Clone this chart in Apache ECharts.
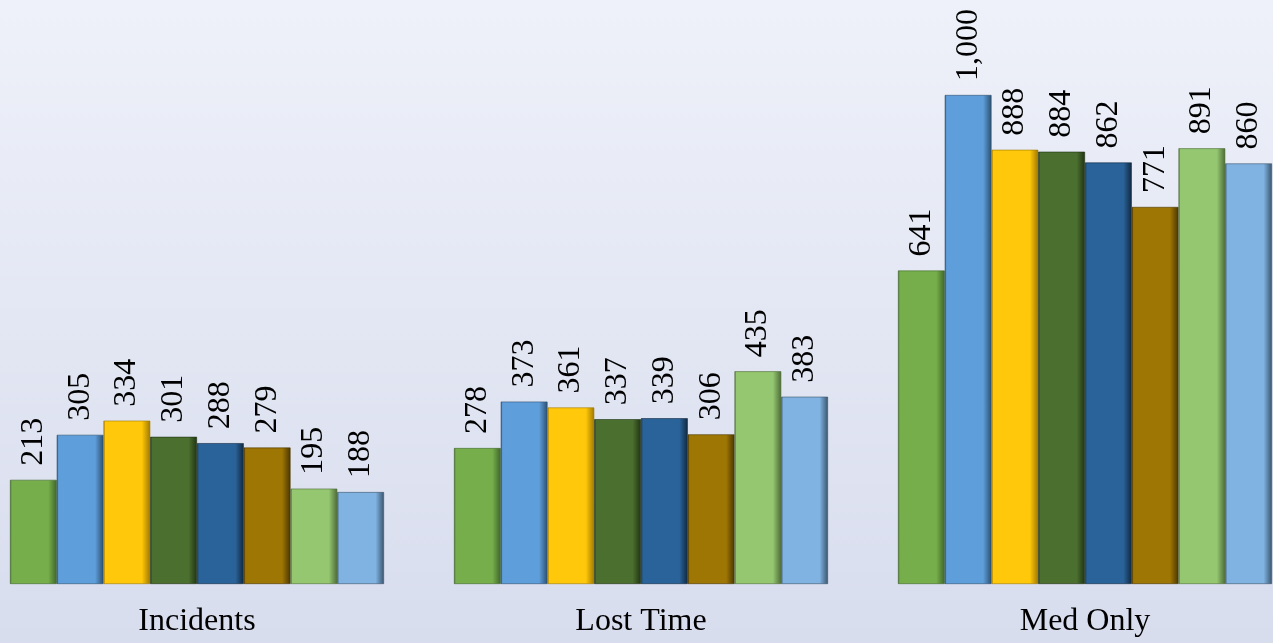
<!DOCTYPE html>
<html>
<head>
<meta charset="utf-8">
<script src="https://cdn.jsdelivr.net/npm/echarts@6/dist/echarts.min.js"></script>
<style>
  html, body { margin: 0; padding: 0; }
  #main { width: 1273px; height: 643px; }
</style>
</head>
<body>
<div id="main"></div>
<script>
var categories = ['Incidents', 'Lost Time', 'Med Only'];
var seriesNames = ['Series 1', 'Series 2', 'Series 3', 'Series 4', 'Series 5', 'Series 6', 'Series 7', 'Series 8'];
var s1 = [213, 278, 641];
var s2 = [305, 373, 1000];
var s3 = [334, 361, 888];
var s4 = [301, 337, 884];
var s5 = [288, 339, 862];
var s6 = [279, 306, 771];
var s7 = [195, 435, 891];
var s8 = [188, 383, 860];
var allValues = [s1, s2, s3, s4, s5, s6, s7, s8];

// base / dark edge colours for each series
var colors = [
  ['#76ae4b', '#3f6628'],
  ['#5e9edb', '#2c4f70'],
  ['#ffc80a', '#a07800'],
  ['#4b6f2f', '#1f3312'],
  ['#2a6399', '#10283f'],
  ['#9e7604', '#4a3600'],
  ['#94c770', '#4d6b38'],
  ['#80b3e2', '#3a546c']
];

var mychart = echarts.init(document.getElementById('main'));

function barColor(c) {
  return new echarts.graphic.LinearGradient(0, 0, 1, 0, [
    {offset: 0, color: c[1]},
    {offset: 0.04, color: c[0]},
    {offset: 0.82, color: c[0]},
    {offset: 1, color: c[1]}
  ]);
}

var series = [];
for (var i = 0; i < allValues.length; i++) {
  series.push({
    name: seriesNames[i],
    type: 'bar',
    barWidth: 46.75,
    barGap: '0%',
    data: allValues[i],
    itemStyle: {
      color: barColor(colors[i]),
      borderColor: colors[i][1],
      borderWidth: 0.6
    },
    label: {
      show: true,
      position: 'top',
      rotate: 90,
      align: 'left',
      verticalAlign: 'middle',
      distance: 14,
      fontFamily: 'Liberation Serif',
      fontSize: 32,
      color: '#000',
      formatter: function (p) {
        return p.value.toLocaleString('en-US');
      }
    }
  });
}

var option = {
  backgroundColor: new echarts.graphic.LinearGradient(0, 0, 0, 1, [
    {offset: 0, color: '#eef1f9'},
    {offset: 1, color: '#d8ddee'}
  ]),
  animation: false,
  grid: {
    left: -25,
    top: 95,
    width: 1332,
    bottom: 59,
    outerBoundsMode: 'none'
  },
  xAxis: {
    type: 'category',
    data: categories,
    axisLine: {show: false},
    axisTick: {show: false},
    axisLabel: {
      margin: 22,
      fontFamily: 'Liberation Serif',
      fontSize: 32,
      color: '#000'
    }
  },
  yAxis: {
    type: 'value',
    min: 0,
    max: 1000,
    show: false,
    splitLine: {show: false}
  },
  series: series
};
mychart.setOption(option);
</script>
</body>
</html>
